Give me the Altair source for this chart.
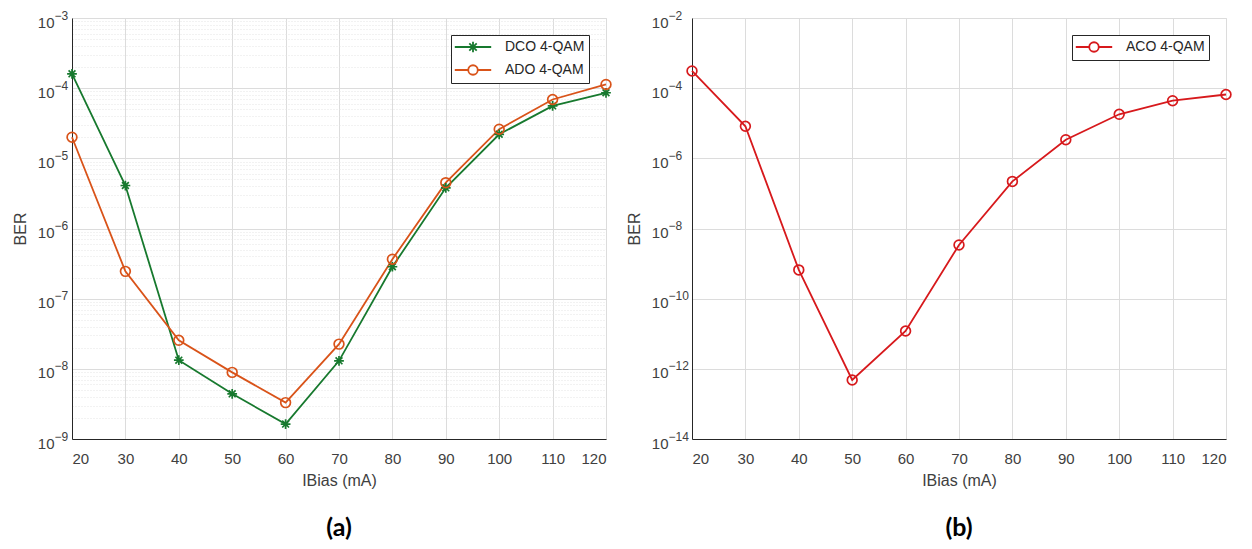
import altair as alt
import pandas as pd

# ---- data ----
ibias = [20, 30, 40, 50, 60, 70, 80, 90, 100, 110, 120]
dco = [1.6e-4, 4.1e-6, 1.33e-8, 4.4e-9, 1.63e-9, 1.3e-8, 2.85e-7, 3.8e-6, 2.2e-5, 5.6e-5, 8.6e-5]
ado = [2.0e-5, 2.45e-7, 2.55e-8, 8.9e-9, 3.3e-9, 2.25e-8, 3.65e-7, 4.5e-6, 2.6e-5, 6.9e-5, 1.13e-4]
aco = [3.1e-4, 8.2e-6, 6.6e-10, 4.8e-13, 1.2e-11, 3.4e-9, 2.2e-7, 3.4e-6, 1.8e-5, 4.4e-5, 6.6e-5]

series_a = ["DCO 4-QAM", "ADO 4-QAM"]
series_b = ["ACO 4-QAM"]
colors_a = ["#17792E", "#D95319"]
colors_b = ["#D7191C"]

x_ticks = list(range(20, 121, 10))
decades_b = [-14, -12, -10, -8, -6, -4, -2]

FONT = "Liberation Sans"
DEC = "abs(log(datum.value)/LN10 - round(log(datum.value)/LN10)) < 1e-6"

# marker paths
ASTERISK = "M-1,0L1,0M0,-1L0,1M-0.7,-0.7L0.7,0.7M-0.7,0.7L0.7,-0.7"
CIRCLE = "circle"
# legend symbols (unit = 7 px): a line segment with the marker on it
LEG_AST = ("M-2.6,0L2.6,0M0,-0.75L0,0.75M-0.53,-0.53L0.53,0.53M-0.53,0.53L0.53,-0.53")
LEG_CIR = ("M-2.6,0L-0.68,0M0.68,0L2.6,0M-0.68,0A0.68,0.68 0 1,1 0.68,0"
           "A0.68,0.68 0 1,1 -0.68,0")

rows_a = []
for name, vals in zip(series_a, [dco, ado]):
    for xv, yv in zip(ibias, vals):
        rows_a.append({"IBias": xv, "BER": yv, "Series": name})
df_a = pd.DataFrame(rows_a)
df_b = pd.DataFrame({"IBias": ibias, "BER": aco, "Series": series_b[0]})

W, H = 534, 421

x_axis = alt.Axis(values=x_ticks, title="IBias (mA)", grid=True, gridColor="#dcdcdc",
                  ticks=False, labelFontSize=15, titleFontSize=16, labelPadding=12,
                  titlePadding=6, domainColor="#262626", labelColor="#404040",
                  titleColor="#404040", labelFont=FONT, titleFont=FONT, titleFontWeight="normal")


def base_axis(values, minor, pad):
    kw = {}
    if minor:
        kw["gridDash"] = {"condition": {"test": DEC, "value": []}, "value": [1, 2]}
        kw["gridColor"] = {"condition": {"test": DEC, "value": "#dcdcdc"}, "value": "#e4e4e4"}
    else:
        kw["gridColor"] = "#dcdcdc"
    return alt.Axis(values=values, labelExpr=f"{DEC} ? '10' : ''", title="BER", grid=True,
                    orient="left", ticks=False, labelFontSize=15, titleFontSize=16,
                    labelPadding=pad, titlePadding=9, domainColor="#262626",
                    labelColor="#404040", titleColor="#404040", labelFont=FONT,
                    titleFont=FONT, titleFontWeight="normal", labelBound=False,
                    labelFlush=False, labelAlign="right", labelOffset=4, **kw)


def exp_axis(values, pad):
    return alt.Axis(values=values, labelExpr=f"{DEC} ? format(round(log(datum.value)/LN10), 'd') : ''",
                    title=None, grid=False, orient="left", ticks=False, domain=False,
                    labelFontSize=12, labelPadding=pad, labelAlign="left", labelOffset=-3,
                    labelColor="#404040", labelFont=FONT, labelBound=False, labelFlush=False)


def make_legend():
    return alt.Legend(title=None, orient="top-right", offset=17, strokeColor="#262626",
                      fillColor="white", padding=4, labelFontSize=14, labelFont=FONT,
                      labelColor="#262626", symbolSize=196, symbolStrokeWidth=1.8,
                      symbolOffset=10, rowPadding=5, labelOffset=24)


def panel(df, names, cols, marker_shapes, leg_paths, ydom, yvalues, minor, pad, tag):
    xenc = alt.X("IBias:Q", scale=alt.Scale(domain=[20, 120], nice=False), axis=x_axis)
    yscale = alt.Scale(type="log", domain=ydom, nice=False)
    yenc = alt.Y("BER:Q", scale=yscale, axis=base_axis(yvalues, minor, pad))
    cscale = alt.Scale(domain=names, range=cols)
    line = alt.Chart(df).mark_line(strokeWidth=1.8).encode(
        x=xenc, y=yenc, color=alt.Color("Series:N", scale=cscale, legend=None),
    )
    pts = alt.Chart(df).mark_point(filled=False, strokeWidth=1.7, size=95, opacity=1).encode(
        x=xenc, y=yenc,
        color=alt.Color("Series:N", scale=cscale, legend=None),
        shape=alt.Shape("Series:N", scale=alt.Scale(domain=names, range=marker_shapes), legend=None),
    )
    # legend-only layer: no rows survive, entries come from the explicit scale domains
    leg = alt.Chart(df).transform_filter("false").mark_point(
        filled=False, strokeWidth=1.8, opacity=1).encode(
        x=xenc, y=yenc,
        color=alt.Color("Series:N", scale=cscale, legend=make_legend()),
        shape=alt.Shape("Series:N", scale=alt.Scale(domain=names, range=leg_paths),
                        legend=make_legend()),
    )
    inner = alt.layer(line, pts, leg).resolve_scale(shape="independent").resolve_legend(
        color="independent", shape="independent")
    # exponent labels for the decade ticks, drawn by a second left axis
    expo = alt.Chart(df).transform_filter("false").mark_point().encode(
        x=xenc, y=alt.Y("BER:Q", scale=yscale, axis=exp_axis(yvalues, pad)),
    )
    return alt.layer(inner, expo).resolve_scale(y="independent").properties(
        width=W, height=H,
        title=alt.TitleParams(text=tag, orient="bottom", anchor="middle", font="Lato",
                              fontWeight="bold", fontSize=25, color="#000000", offset=28),
    )


minor_vals = []
for d in range(-9, -3):
    for m in range(1, 10):
        minor_vals.append(m * 10.0 ** d)
minor_vals.append(1e-3)

pa = panel(df_a, series_a, colors_a, [ASTERISK, CIRCLE], [LEG_AST, LEG_CIR],
           [1e-9, 1e-3], minor_vals, True, 18, "(a)")
pb = panel(df_b, series_b, colors_b, [CIRCLE], [LEG_CIR],
           [1e-14, 1e-2], [10.0 ** d for d in decades_b], False, 24, "(b)")

chart = alt.hconcat(pa, pb, spacing=10).resolve_scale(color="independent", shape="independent").properties(
    padding={"left": 3, "top": 0, "right": 2, "bottom": 2}
).configure_view(stroke=None).configure(background="white")

chart.save("out.html", embed_options={"renderer": "svg", "actions": False})
